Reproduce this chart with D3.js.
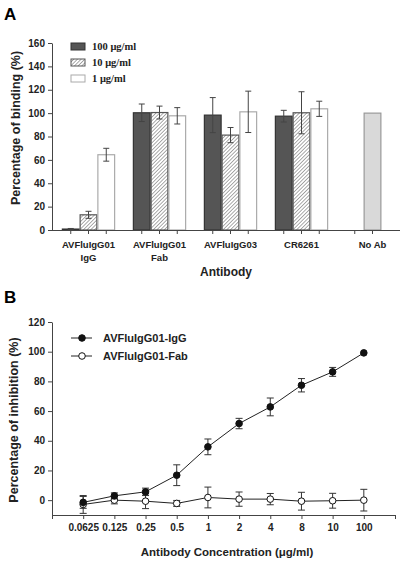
<!DOCTYPE html>
<html><head><meta charset="utf-8">
<script src="https://cdn.jsdelivr.net/npm/d3@7"></script>
<style>body{margin:0;background:#fff}svg{display:block}</style>
</head><body>
<script>
// ---------- Panel A data ----------
const categoriesA = ["AVFluIgG01\nIgG", "AVFluIgG01\nFab", "AVFluIgG03", "CR6261", "No Ab"];
const seriesA = ["100 μg/ml", "10 μg/ml", "1 μg/ml"];
const val100 = [0.8, 100.3, 98.3, 97.4, null];
const err100 = [0.5, 7.5, 15, 5, null];
const val10 = [13, 100.5, 81.2, 100.3, null];
const err10 = [3, 5.5, 6.5, 18, null];
const val1 = [64.4, 97.7, 101.1, 103.7, null];
const err1 = [5.5, 7, 17.7, 6.5, null];
const noAbValue = 100;
const yTicksA = [0, 20, 40, 60, 80, 100, 120, 140, 160];

// ---------- Panel B data ----------
const concLabels = ["0.0625", "0.125", "0.25", "0.5", "1", "2", "4", "8", "10", "100"];
const igG = [-1.5, 2.9, 5.6, 16.8, 35.9, 51.6, 62.8, 77.4, 86.4, 99.2];
const igGErr = [4, 2, 2.5, 7, 5.3, 3.5, 6, 4.5, 3, 0];
const fab = [-2.9, 0, -0.7, -2.2, 1.8, 0.7, 0.7, -0.7, -0.4, 0];
const fabErr = [6, 2.5, 5, 2, 7, 4.8, 3.8, 6, 5, 7.3];
const yTicksB = [0, 20, 40, 60, 80, 100, 120];
const seriesB = ["AVFluIgG01-IgG", "AVFluIgG01-Fab"];

const W = 406, H = 562;
const svg = d3.select("body").append("svg").attr("width", W).attr("height", H);
const SANS = "'Liberation Sans', Arial, sans-serif";
const SERIF = "'Liberation Serif', 'Times New Roman', serif";
const AX = "#444";

// hatch pattern
const defs = svg.append("defs");
const pat = defs.append("pattern").attr("id", "hatch").attr("patternUnits", "userSpaceOnUse")
  .attr("width", 2.6).attr("height", 2.6).attr("patternTransform", "rotate(45)");
pat.append("rect").attr("width", 2.6).attr("height", 2.6).attr("fill", "#fff");
pat.append("line").attr("x1", 0).attr("y1", 0).attr("x2", 0).attr("y2", 2.6)
  .attr("stroke", "#666").attr("stroke-width", 1.1);

// ================= Panel A =================
const gA = svg.append("g");
gA.append("text").attr("x", 4).attr("y", 20).text("A")
  .attr("font-family", SANS).attr("font-weight", "bold").attr("font-size", 17);

const yA = d3.scaleLinear().domain([0, 160]).range([230, 43]);
const x0 = d3.scaleBand().domain(categoriesA).range([53, 408]).paddingInner(0.25).paddingOuter(0.125);
const x1 = d3.scaleBand().domain([0, 1, 2]).range([0, x0.bandwidth()]);

// y axis
const yAxA = gA.append("g").attr("transform", "translate(52,0)")
  .call(d3.axisLeft(yA).tickValues(yTicksA).tickSize(4).tickPadding(3).tickSizeOuter(0));
yAxA.select(".domain").attr("stroke", AX);
yAxA.selectAll(".tick line").attr("stroke", AX);
yAxA.selectAll(".tick text").attr("font-family", SANS).attr("font-weight", "bold")
  .attr("font-size", 10).attr("fill", "#222");

gA.append("text").attr("transform", "translate(20,128) rotate(-90)").attr("text-anchor", "middle")
  .attr("font-family", SANS).attr("font-weight", "bold").attr("font-size", 12.5).attr("fill", "#222")
  .text("Percentage of binding (%)");

// bars
const seriesVals = [val100, val10, val1];
const seriesErr = [err100, err10, err1];
const fills = ["#555", "url(#hatch)", "#fff"];
const strokes = ["#333", "#555", "#aaa"];
seriesVals.forEach((vals, s) => {
  categoriesA.forEach((c, i) => {
    const v = vals[i];
    if (v == null) return;
    const x = x0(c) + x1(s);
    const w = x1.bandwidth();
    gA.append("rect").attr("x", x + 0.5).attr("y", yA(v)).attr("width", w - 1)
      .attr("height", yA(0) - yA(v)).attr("fill", fills[s]).attr("stroke", strokes[s]).attr("stroke-width", 1.2);
    const e = seriesErr[s][i];
    const cx = x + w / 2;
    const eg = gA.append("g").attr("stroke", "#444").attr("stroke-width", 1);
    eg.append("line").attr("x1", cx).attr("x2", cx).attr("y1", yA(v + e)).attr("y2", yA(v - e));
    eg.append("line").attr("x1", cx - 3).attr("x2", cx + 3).attr("y1", yA(v + e)).attr("y2", yA(v + e));
    eg.append("line").attr("x1", cx - 3).attr("x2", cx + 3).attr("y1", yA(v - e)).attr("y2", yA(v - e));
  });
});
// No Ab bar (middle slot)
{
  const c = categoriesA[4];
  const x = x0(c) + x1(1);
  gA.append("rect").attr("x", x + 0.5).attr("y", yA(noAbValue)).attr("width", x1.bandwidth() - 1)
    .attr("height", yA(0) - yA(noAbValue)).attr("fill", "#d9d9d9").attr("stroke", "#999").attr("stroke-width", 1.2);
}

// x axis
gA.append("line").attr("x1", 52).attr("x2", 400).attr("y1", 230.5).attr("y2", 230.5).attr("stroke", AX);
categoriesA.forEach((c, i) => {
  const slots = i === 4 ? [0, 1] : [0, 1, 2];
  slots.forEach(s => {
    const cx = x0(c) + x1(s) + x1.bandwidth() / 2;
    gA.append("line").attr("x1", cx).attr("x2", cx).attr("y1", 230).attr("y2", 234).attr("stroke", AX);
  });
  const lines = c.split("\n");
  const cx = x0(c) + x0.bandwidth() / 2;
  const t = gA.append("text").attr("text-anchor", "middle").attr("font-family", SANS)
    .attr("font-weight", "bold").attr("font-size", 9.5).attr("fill", "#222");
  lines.forEach((l, k) => t.append("tspan").attr("x", cx).attr("y", 248 + k * 12.5).text(l));
});
gA.append("text").attr("x", 226).attr("y", 276).attr("text-anchor", "middle").attr("font-family", SANS)
  .attr("font-weight", "bold").attr("font-size", 12).attr("fill", "#222").text("Antibody");

// legend A
seriesA.forEach((s, k) => {
  const y = 46 + k * 16;
  gA.append("rect").attr("x", 71).attr("y", y - 3).attr("width", 14).attr("height", 7)
    .attr("fill", fills[k]).attr("stroke", strokes[k]).attr("stroke-width", 1);
  gA.append("text").attr("x", 92).attr("y", y + 4).attr("font-family", SERIF).attr("font-weight", "bold")
    .attr("font-size", 10.5).attr("fill", "#222").text(s);
});

// ================= Panel B =================
const gB = svg.append("g");
gB.append("text").attr("x", 4).attr("y", 303).text("B")
  .attr("font-family", SANS).attr("font-weight", "bold").attr("font-size", 17);

const yB = d3.scaleLinear().domain([-10, 120]).range([515, 322]);
const xB = d3.scaleLinear().domain([0, concLabels.length + 1]).range([52, 395]);

const yAxB = gB.append("g").attr("transform", "translate(52,0)")
  .call(d3.axisLeft(yB).tickValues(yTicksB).tickSize(4).tickPadding(3).tickSizeOuter(0));
yAxB.select(".domain").attr("stroke", AX);
yAxB.selectAll(".tick line").attr("stroke", AX);
yAxB.selectAll(".tick text").attr("font-family", SANS).attr("font-weight", "bold")
  .attr("font-size", 10).attr("fill", "#222");

const xAxB = gB.append("g").attr("transform", "translate(0,515)")
  .call(d3.axisBottom(xB).tickValues(d3.range(0, concLabels.length + 2)).tickSize(4).tickPadding(5)
    .tickSizeOuter(0).tickFormat(i => (i >= 1 && i <= concLabels.length) ? concLabels[i - 1] : ""));
xAxB.select(".domain").attr("stroke", AX);
xAxB.selectAll(".tick line").attr("stroke", AX);
xAxB.selectAll(".tick text").attr("font-family", SANS).attr("font-weight", "bold")
  .attr("font-size", 10).attr("fill", "#222");

gB.append("text").attr("transform", "translate(18,420) rotate(-90)").attr("text-anchor", "middle")
  .attr("font-family", SANS).attr("font-weight", "bold").attr("font-size", 12.5).attr("fill", "#222")
  .text("Percentage of inhibition (%)");
gB.append("text").attr("x", 227).attr("y", 556).attr("text-anchor", "middle").attr("font-family", SANS)
  .attr("font-weight", "bold").attr("font-size", 11.5).attr("fill", "#222")
  .text("Antibody Concentration (μg/ml)");

const line = d3.line().x((d, i) => xB(i + 1)).y(d => yB(d));
function drawSeries(vals, errs, filled) {
  gB.append("path").datum(vals).attr("d", line).attr("fill", "none").attr("stroke", "#222").attr("stroke-width", 1);
  vals.forEach((v, i) => {
    const e = errs[i];
    const cx = xB(i + 1);
    if (e > 0) {
      const eg = gB.append("g").attr("stroke", "#333").attr("stroke-width", 1);
      eg.append("line").attr("x1", cx).attr("x2", cx).attr("y1", yB(v + e)).attr("y2", yB(v - e));
      eg.append("line").attr("x1", cx - 3.5).attr("x2", cx + 3.5).attr("y1", yB(v + e)).attr("y2", yB(v + e));
      eg.append("line").attr("x1", cx - 3.5).attr("x2", cx + 3.5).attr("y1", yB(v - e)).attr("y2", yB(v - e));
    }
  });
  vals.forEach((v, i) => {
    gB.append("circle").attr("cx", xB(i + 1)).attr("cy", yB(v)).attr("r", 3.3)
      .attr("fill", filled ? "#111" : "#fff").attr("stroke", "#111").attr("stroke-width", 1);
  });
}
drawSeries(fab, fabErr, false);
drawSeries(igG, igGErr, true);

// legend B
seriesB.forEach((s, k) => {
  const y = 338 + k * 18;
  gB.append("line").attr("x1", 71).attr("x2", 92).attr("y1", y).attr("y2", y).attr("stroke", "#222");
  gB.append("circle").attr("cx", 82).attr("cy", y).attr("r", 3.3).attr("fill", k === 0 ? "#111" : "#fff")
    .attr("stroke", "#111");
  gB.append("text").attr("x", 103).attr("y", y + 4).attr("font-family", SANS).attr("font-weight", "bold")
    .attr("font-size", 11).attr("fill", "#222").text(s);
});
</script>
</body></html>
